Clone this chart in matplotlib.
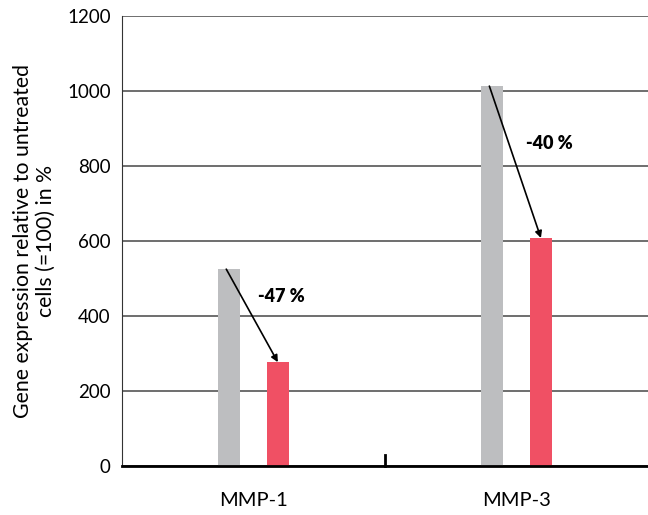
import numpy as np
import matplotlib.pyplot as plt

plt.rcParams['font.family'] = ['Lato', 'DejaVu Sans']

# data
categories = ['MMP-1', 'MMP-3']
untreated = [525, 1013]
treated = [277, 608]
changes = ['-47 %', '-40 %']

fig = plt.figure(figsize=(6.48, 5.15), dpi=100)
ax = fig.add_axes([0.188, 0.095, 0.812, 0.874])

x = np.arange(len(categories))
w = 0.084
off = 0.093
ax.bar(x - off, untreated, w, color='#bdbec0', zorder=2)
ax.bar(x + off, treated, w, color='#f05064', zorder=2)

# arrows from untreated top to treated top
for i in range(len(categories)):
    ax.annotate('', xy=(x[i] + off, treated[i]), xytext=(x[i] - off - 0.01, untreated[i]),
                arrowprops=dict(arrowstyle='-|>', color='black', lw=1.2,
                                mutation_scale=10, shrinkA=0, shrinkB=0), zorder=3)
ax.text(x[0] + 0.105, 451, changes[0], fontsize=13, fontweight='heavy', ha='center', va='center')
ax.text(x[1] + 0.124, 859, changes[1], fontsize=13, fontweight='heavy', ha='center', va='center')

ax.set_xlim(-0.5, 1.5)
ax.set_ylim(0, 1200)
ax.set_yticks(range(0, 1201, 200))
ax.yaxis.grid(True, color='#555555', lw=1.2)
ax.set_axisbelow(True)
ax.set_xticks(x)
ax.set_xticklabels(categories, fontsize=14.5)
ax.tick_params(axis='x', length=0, pad=19)
ax.tick_params(axis='y', length=0, labelsize=13.5, pad=8)
# small divider tick between groups
ax.plot([0.5, 0.5], [0, 30], color='black', lw=2, zorder=3, clip_on=False)

for s in ['top', 'right']:
    ax.spines[s].set_visible(False)
ax.spines['left'].set_color('#333333')
ax.spines['bottom'].set_linewidth(2)

ax.set_ylabel('Gene expression relative to untreated\ncells (=100) in %', fontsize=15.3,
              labelpad=8)

fig.savefig('out.png', dpi=100)
